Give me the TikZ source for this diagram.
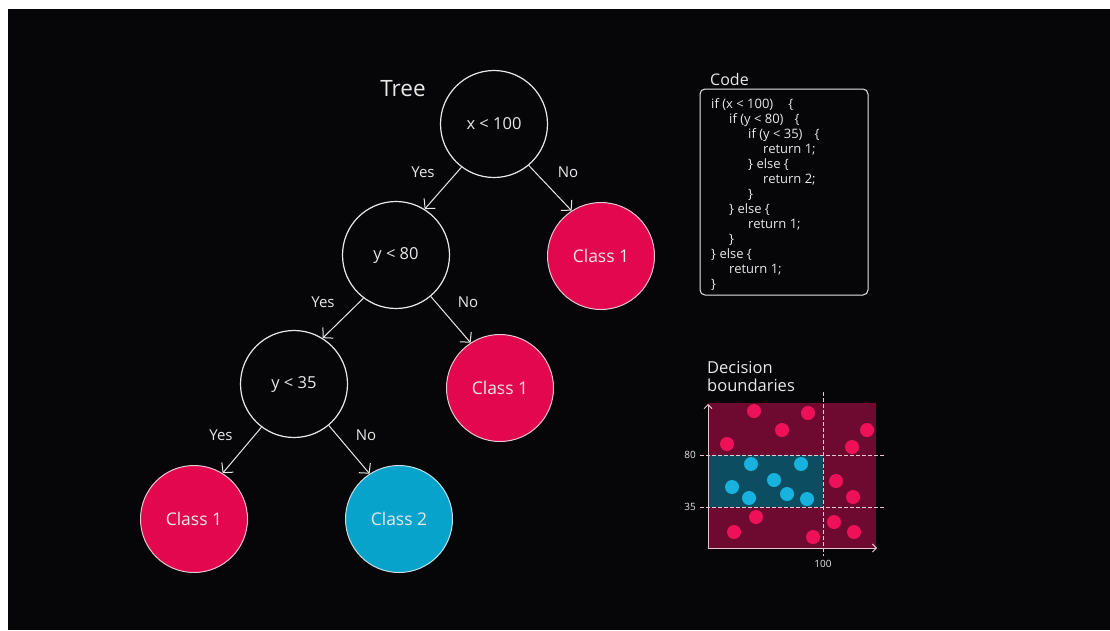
\documentclass[tikz,border=0pt]{standalone}
\usepackage{fontspec}
\setmainfont{Open Sans}
\usetikzlibrary{arrows.meta}

\definecolor{bg}{HTML}{060507}
\definecolor{fg}{HTML}{E8E8E8}
\definecolor{cred}{HTML}{E2074F}
\definecolor{cblue}{HTML}{07A3CB}
\definecolor{regred}{HTML}{6E0A30}
\definecolor{regteal}{HTML}{0C4D62}
\definecolor{dotred}{HTML}{EE1159}
\definecolor{dotblue}{HTML}{18B2DE}

\tikzset{
  test/.style={circle, draw=fg, line width=1.2pt, minimum size=107pt, inner sep=0pt,
    text=fg, font=\fontsize{16.5}{18}\selectfont},
  leafone/.style={test, fill=cred, draw=fg!85!cred, line width=1pt,
    font=\fontsize{17.5}{19}\selectfont},
  leaftwo/.style={test, fill=cblue, draw=fg!85!cblue, line width=1pt,
    font=\fontsize{17.5}{19}\selectfont},
  branch/.style={draw=fg, line width=1pt, -{Straight Barb[length=7pt,width=15pt]}},
  lbl/.style={text=fg, inner sep=0pt, font=\fontsize{15}{16}\selectfont},
  heading/.style={text=fg, inner sep=0pt, anchor=west, font=\fontsize{16}{17}\selectfont},
  tick/.style={text=fg, inner sep=0pt, font=\fontsize{10}{11}\selectfont},
  guide/.style={draw=fg!85!cred, line width=0.8pt, dash pattern=on 3.5pt off 2.5pt},
  axis/.style={draw=fg!85!cred, line width=0.9pt, -{Straight Barb[length=4pt,width=8pt]}},
  dotone/.style={fill=dotred},
  dottwo/.style={fill=dotblue},
}

\begin{document}
\begin{tikzpicture}[x=1pt,y=-1pt]
\useasboundingbox (0,0) rectangle (1110,630);
\fill[white] (0,0) rectangle (1110,630);
\fill[bg] (8,9) rectangle (1110,630);

% ---------- decision tree ----------
\node[text=fg, inner sep=0pt, font=\fontsize{22.5}{24}\selectfont] (title) at (403,89) {Tree};

\node[test] (root) at (494,124) {x < 100};
\node[test] (ya) at (396,255) {y < 80};
\node[leafone] (c1a) at (601,256) {Class 1};
\node[test] (yb) at (294,384) {y < 35};
\node[leafone] (c1b) at (500,388) {Class 1};
\node[leafone] (c1c) at (194,519) {Class 1};
\node[leaftwo] (c2) at (399,519) {Class 2};

\draw[branch] (root.-127) -- (ya.58);
\draw[branch] (root.-50) -- (c1a.123);
\draw[branch] (ya.-127) -- (yb.58);
\draw[branch] (ya.-50) -- (c1b.123);
\draw[branch] (yb.-127) -- (c1c.58);
\draw[branch] (yb.-50) -- (c2.123);

\node[lbl] (y1) at (423,172) {Yes};
\node[lbl] (n1) at (568,172) {No};
\node[lbl] (y2) at (323,302) {Yes};
\node[lbl] (n2) at (468,302) {No};
\node[lbl] (y3) at (221,435) {Yes};
\node[lbl] (n3) at (366,435) {No};

% ---------- code ----------
\node[heading] (codetitle) at (710,79) {Code};
\draw[fg, line width=1pt, rounded corners=5pt] (700,89) rectangle (868,295);
\node[text=fg, inner sep=0pt, anchor=north west, align=left,
      font=\fontsize{13}{15}\selectfont] (code) at (711,98.5) {%
if (x < 100)\hspace{15pt}\{\\
\hspace*{18pt}if (y < 80)\hspace{11pt}\{\\
\hspace*{37pt}if (y < 35)\hspace{12pt}\{\\
\hspace*{52pt}return 1;\\
\hspace*{37pt}\} else \{\\
\hspace*{52pt}return 2;\\
\hspace*{37pt}\}\\
\hspace*{18pt}\} else \{\\
\hspace*{37pt}return 1;\\
\hspace*{18pt}\}\\
\} else \{\\
\hspace*{18pt}return 1;\\
\}};

% ---------- decision boundaries ----------
\node[heading, align=left, anchor=north west, font=\fontsize{16.5}{18.5}\selectfont]
  (plottitle) at (707,361) {Decision\\boundaries};

\fill[regred] (708,403) rectangle (876,548);
\fill[regteal] (708,455) rectangle (823,507);

\foreach \p in {(754,411),(808,413),(782,430),(727,444),(867,430),(852,447),
                (836,481),(853,497),(756,517),(834,522),(734,532),(813,537),(854,532)}
  \fill[dotone] \p circle (7);
\foreach \p in {(751,464),(801,464),(732,487),(774,480),(787,494),(749,498),(807,499)}
  \fill[dottwo] \p circle (7);

\draw[guide] (823,392) -- (823,556);
\draw[guide] (700,455) -- (884,455);
\draw[guide] (700,507) -- (884,507);

\coordinate (origin) at (708,548);
\coordinate (ytop) at (708,404);
\coordinate (xend) at (877,548);
\draw[axis] (origin) -- (ytop);
\draw[axis] (origin) -- (xend);

\node[tick] (t80) at (690,455) {80};
\node[tick] (t35) at (690,507) {35};
\node[tick] (t100) at (823,564) {100};
\end{tikzpicture}
\end{document}
